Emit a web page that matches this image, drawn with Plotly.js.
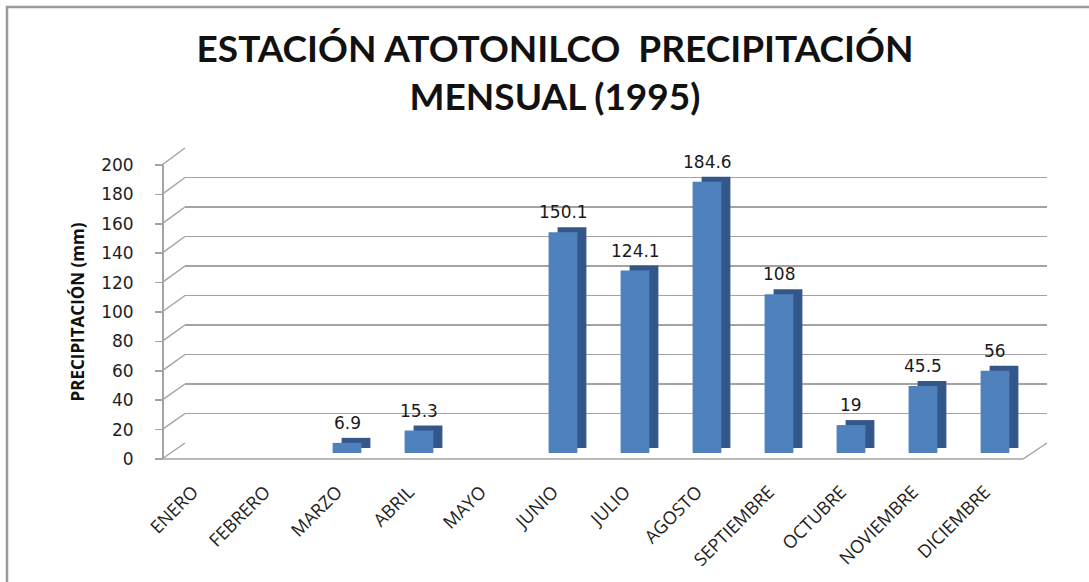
<!DOCTYPE html>
<html>
<head>
<meta charset="utf-8">
<script src="https://cdn.plot.ly/plotly-3.0.1.min.js"></script>
<style>html,body{margin:0;padding:0;background:#fff;}#chart{width:1089px;height:582px;}</style>
</head>
<body>
<div id="chart"></div>
<script>
// ---- data ----
const months = ["ENERO","FEBRERO","MARZO","ABRIL","MAYO","JUNIO","JULIO","AGOSTO","SEPTIEMBRE","OCTUBRE","NOVIEMBRE","DICIEMBRE"];
const precip = [null, null, 6.9, 15.3, null, 150.1, 124.1, 184.6, 108, 19, 45.5, 56];
const yTicks = [0, 20, 40, 60, 80, 100, 120, 140, 160, 180, 200];
const titleText = "ESTACIÓN ATOTONILCO  PRECIPITACIÓN<br>MENSUAL (1995)";
const yTitle = "PRECIPITACIÓN (mm)";

// ---- geometry helpers (pixel -> paper) ----
const W = 1089, H = 582;
const fx = px => px / W;
const fy = py => 1 - py / H;
const frontDom = [fy(459), fy(165)];
const backDom = [fy(443), fy(148)];
const YMAX = 200;
const frontY = t => frontDom[0] + t / YMAX * (frontDom[1] - frontDom[0]);
const backY = t => backDom[0] + t / YMAX * (backDom[1] - backDom[0]);
const pxPerUnit = (459 - 165) / YMAX;
const barZeroLift = 6 / pxPerUnit;      // bars stand a little behind the front edge
const depthUp = 5 / pxPerUnit;          // 3D depth (vertical)
const depthRight = 9 / 72;              // 3D depth (horizontal, category units)
const barW = 0.4;

const gridCol = "#a3a3a3";

const traces = [
  // invisible trace so the back-wall grid subplot is instantiated
  { type: "scatter", x: [], y: [], xaxis: "x", yaxis: "y", showlegend: false, hoverinfo: "skip" },
  { // side / top face
    type: "bar", x: months, y: precip, base: depthUp,
    width: barW, offset: -barW / 2 + depthRight,
    marker: { color: "#34578a", line: { width: 0 } },
    xaxis: "x2", yaxis: "y2", hoverinfo: "skip", showlegend: false
  },
  { // front face
    type: "bar", x: months, y: precip,
    width: barW, offset: -barW / 2,
    marker: { color: "#4f81bd", line: { width: 0 } },
    xaxis: "x2", yaxis: "y2", showlegend: false
  },
  // invisible trace so the value axis is instantiated
  { type: "scatter", x: [], y: [], xaxis: "x2", yaxis: "y3", showlegend: false, hoverinfo: "skip" }
];

const shapes = [];
// chart frame
shapes.push({ type: "rect", xref: "paper", yref: "paper", x0: fx(7), y0: fy(7), x1: 1.05, y1: -0.05,
  line: { color: "#9a9a9a", width: 2.5 }, fillcolor: "rgba(0,0,0,0)", layer: "below" });
// side-wall diagonals
yTicks.forEach(t => {
  shapes.push({ type: "line", xref: "paper", yref: "paper", x0: fx(162), y0: frontY(t), x1: fx(185), y1: backY(t),
    line: { color: gridCol, width: 1.5 }, layer: "below" });
});
// floor front edge and right edge
shapes.push({ type: "line", xref: "paper", yref: "paper", x0: fx(162), y0: frontY(0), x1: fx(1023), y1: frontY(0),
  line: { color: gridCol, width: 1.5 }, layer: "below" });
shapes.push({ type: "line", xref: "paper", yref: "paper", x0: fx(1023), y0: frontY(0), x1: fx(1047), y1: backY(0),
  line: { color: gridCol, width: 1.5 }, layer: "below" });

const annotations = [];
months.forEach((m, i) => {
  if (precip[i] === null) return;
  annotations.push({ x: m, y: precip[i], xref: "x2", yref: "y2", text: String(precip[i]),
    showarrow: false, yshift: 20, yanchor: "middle",
    font: { family: "DejaVu Sans, Verdana, sans-serif", size: 17, color: "#1a1a1a" } });
});

const layout = {
  width: W, height: H,
  margin: { l: 0, r: 0, t: 0, b: 0 },
  paper_bgcolor: "#ffffff", plot_bgcolor: "rgba(0,0,0,0)",
  barmode: "overlay",
  title: { text: titleText, x: fx(555), xanchor: "center", y: fy(62), yanchor: "top",
    font: { family: "Lato, 'Open Sans', sans-serif", size: 37, weight: 700, color: "#111" } },
  // back wall gridlines
  xaxis: { domain: [fx(185), fx(1047)], range: [0, 1], visible: false, fixedrange: true },
  yaxis: { domain: backDom, range: [0, YMAX], tickvals: yTicks, showgrid: true, gridcolor: gridCol, gridwidth: 1.5,
    showticklabels: false, ticks: "", zeroline: false, showline: false, anchor: "x" },
  // bars
  xaxis2: { domain: [fx(167), fx(1031)], range: [-0.5, 11.5], type: "category", anchor: "y2",
    showgrid: false, showline: false, zeroline: false, ticks: "", tickangle: -45, ticklabelstandoff: 18,
    ticklabelshift: -10,
    tickfont: { family: "'Open Sans', 'Noto Sans', sans-serif", size: 18, color: "#1e1e1e" } },
  yaxis2: { domain: frontDom, range: [-barZeroLift, YMAX - barZeroLift], visible: false, anchor: "x2" },
  // value axis with labels
  yaxis3: { overlaying: "y2", anchor: "free", position: fx(162), side: "left", range: [0, YMAX], tickvals: yTicks,
    showgrid: false, zeroline: false, showline: true, linecolor: gridCol, linewidth: 1.5,
    ticks: "outside", ticklen: 7, tickcolor: gridCol, tickwidth: 1.5, ticklabelstandoff: 18,
    tickfont: { family: "DejaVu Sans, Verdana, sans-serif", size: 17, color: "#1e1e1e" },
    title: { text: yTitle, standoff: 10, font: { family: "'Open Sans', 'Noto Sans', sans-serif", size: 17, weight: 700, color: "#111" } } },
  shapes: shapes,
  annotations: annotations
};

Plotly.newPlot("chart", traces, layout, { displayModeBar: false, staticPlot: true });
</script>
</body>
</html>
